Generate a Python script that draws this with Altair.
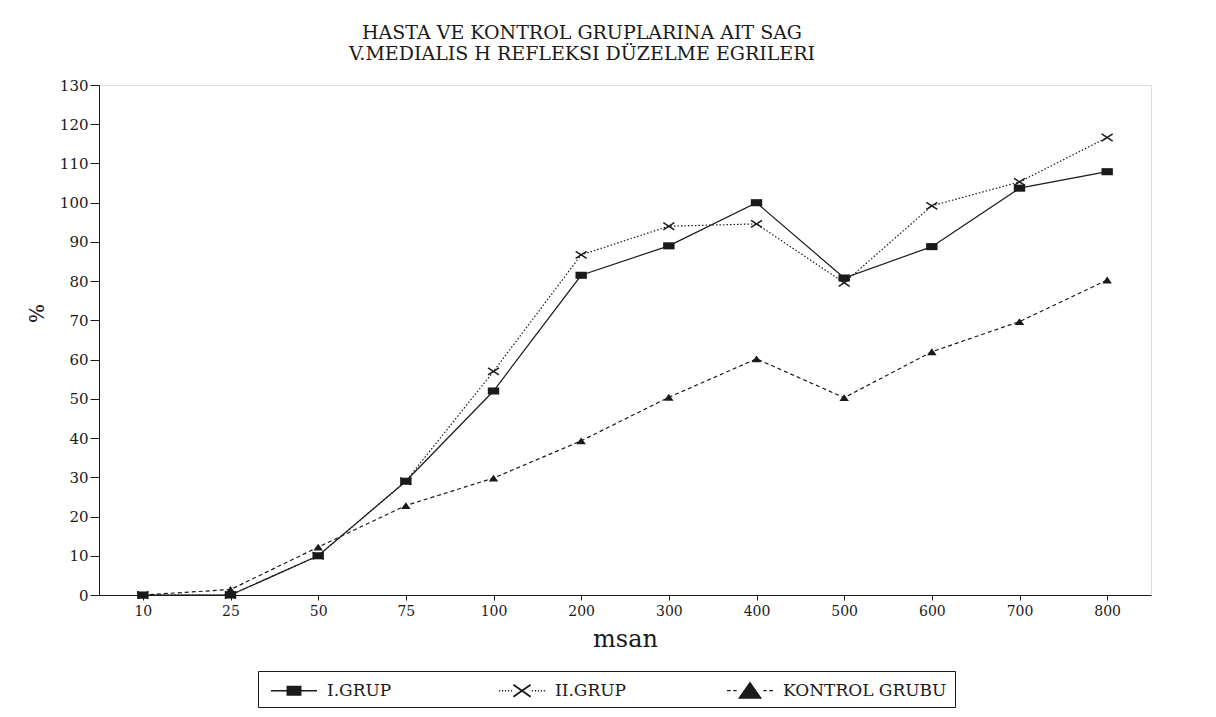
import math
import altair as alt
import pandas as pd

# ---- data ----
x_labels = ["10", "25", "50", "75", "100", "200", "300", "400", "500", "600", "700", "800"]
series_names = ["I.GRUP", "II.GRUP", "KONTROL GRUBU"]
grup1 = [0, 0, 10, 29, 52, 81.5, 89, 100, 80.8, 88.8, 103.7, 107.9]
grup2 = [0, 0, 10, 29, 57, 86.7, 94, 94.6, 79.6, 99.2, 105.3, 116.6]
kontrol = [0, 1.4, 12.2, 22.8, 29.8, 39.3, 50.4, 60.2, 50.3, 62, 69.7, 80.3]
y_ticks = [0, 10, 20, 30, 40, 50, 60, 70, 80, 90, 100, 110, 120, 130]
title_lines = ["HASTA VE KONTROL GRUPLARINA AIT SAG", "V.MEDIALIS H REFLEKSI DÜZELME EGRILERI"]

rows = []
for name, vals in zip(series_names, [grup1, grup2, kontrol]):
    for i, (xv, v) in enumerate(zip(x_labels, vals)):
        rows.append({"msan": xv, "pct": v, "series": name, "order": i})
df = pd.DataFrame(rows)

INK = "#1a1a1a"
SERIF = "DejaVu Serif"

x_enc = alt.X(
    "msan:O",
    sort=x_labels,
    scale=alt.Scale(type="point", domain=x_labels, padding=0.5),
    axis=alt.Axis(
        title="msan", labelAngle=0, tickSize=5, labelPadding=4,
        labelFont=SERIF, labelFontSize=14, labelColor=INK,
        titleFont=SERIF, titleFontSize=24, titleFontWeight="normal", titleColor=INK,
        titlePadding=9, domainColor=INK, tickColor=INK, grid=False,
    ),
)
y_enc = alt.Y(
    "pct:Q",
    scale=alt.Scale(domain=[0, 130], nice=False),
    axis=alt.Axis(
        values=y_ticks, title="%", tickSize=9, labelPadding=2,
        labelFont=SERIF, labelFontSize=15, labelColor=INK,
        titleFont=SERIF, titleFontSize=20, titleFontWeight="normal", titleColor=INK,
        titleX=-62, titleY=228, titleAlign="center", titleBaseline="middle",
        domainColor=INK, tickColor=INK, grid=False,
    ),
)

dash = {"I.GRUP": None, "II.GRUP": [1.5, 2], "KONTROL GRUBU": [4, 3]}
marker = {
    "I.GRUP": ("M-1,-0.62H1V0.62H-1Z", 130, True),
    "II.GRUP": ("M-1,-0.65L1,0.65M-1,0.65L1,-0.65", 121, False),
    "KONTROL GRUBU": ("M-1,0.72L0,-0.72L1,0.72Z", 90, True),
}

layers = []
for name in series_names:
    base = alt.Chart(df).transform_filter(alt.datum.series == name)
    lkw = dict(color=INK, strokeWidth=1.2)
    if dash[name]:
        lkw["strokeDash"] = dash[name]
    layers.append(base.mark_line(**lkw).encode(x=x_enc, y=y_enc, order="order:Q"))
for name in series_names:
    path, size, filled = marker[name]
    base = alt.Chart(df).transform_filter(alt.datum.series == name)
    layers.append(
        base.mark_point(shape=path, size=size, filled=filled, color=INK,
                        strokeWidth=1.5, opacity=1).encode(x=x_enc, y=y_enc)
    )

# legend symbols (filled outlines only): line segment + marker, unit = 11.5 px
def rect(x0, x1, h):
    return f"M{x0:.3f},{-h:.3f}H{x1:.3f}V{h:.3f}H{x0:.3f}Z"

def segs(a, b, step, length, h):
    out = []
    p = a
    while p + length <= b + 1e-9:
        out.append(rect(p, p + length, h))
        p += step
    return "".join(out)

def bar(x0, y0, x1, y1, w):
    dx, dy = x1 - x0, y1 - y0
    L = math.hypot(dx, dy)
    nx, ny = -dy / L * w / 2, dx / L * w / 2
    pts = [(x0 + nx, y0 + ny), (x1 + nx, y1 + ny), (x1 - nx, y1 - ny), (x0 - nx, y0 - ny)]
    return "M" + "L".join(f"{px:.3f},{py:.3f}" for px, py in pts) + "Z"

H = 0.055
leg_paths = [
    rect(-2, 2, H) + "M-0.65,-0.43H0.65V0.43H-0.65Z",
    segs(-2, -0.85, 0.26, 0.1, H) + bar(-0.75, -0.52, 0.75, 0.52, 0.16)
    + bar(-0.75, 0.52, 0.75, -0.52, 0.16) + segs(0.85, 2, 0.26, 0.1, H),
    rect(-2, -1.68, H) + rect(-1.46, -1.16, H) + "M-1.05,0.7L0,-0.8L1.05,0.7Z"
    + rect(1.16, 1.46, H) + rect(1.68, 2, H),
]

legend_layer = alt.Chart(df).transform_filter("false").mark_point(
    filled=True, color=INK
).encode(
    x=x_enc, y=y_enc,
    shape=alt.Shape(
        "series:N",
        scale=alt.Scale(domain=series_names, range=leg_paths),
        legend=alt.Legend(
            title=None, orient="none", legendX=159, legendY=586,
            direction="horizontal", columns=3, gridAlign="all", columnPadding=3,
            symbolSize=529, symbolOffset=16.5, symbolFillColor=INK,
            symbolStrokeWidth=0, symbolOpacity=1,
            labelFont=SERIF, labelFontSize=17, labelColor=INK, labelOffset=21.5, labelLimit=0,
            padding=8, strokeColor=INK,
        ),
    ),
)
layers.append(legend_layer)

chart = alt.layer(*layers).properties(
    width=1052, height=510,
    autosize=alt.AutoSizeParams(type="none"),
    padding={"left": 91, "top": 77, "right": 57, "bottom": 120},
    title=alt.TitleParams(
        text=title_lines, font=SERIF, fontSize=19, fontWeight="normal", color=INK,
        anchor="middle", dx=-43, offset=14, lineHeight=21,
    ),
).configure_view(stroke=INK, strokeWidth=1.2).configure(background="white")

chart.save("out.html", embed_options={"renderer": "svg", "actions": False})
